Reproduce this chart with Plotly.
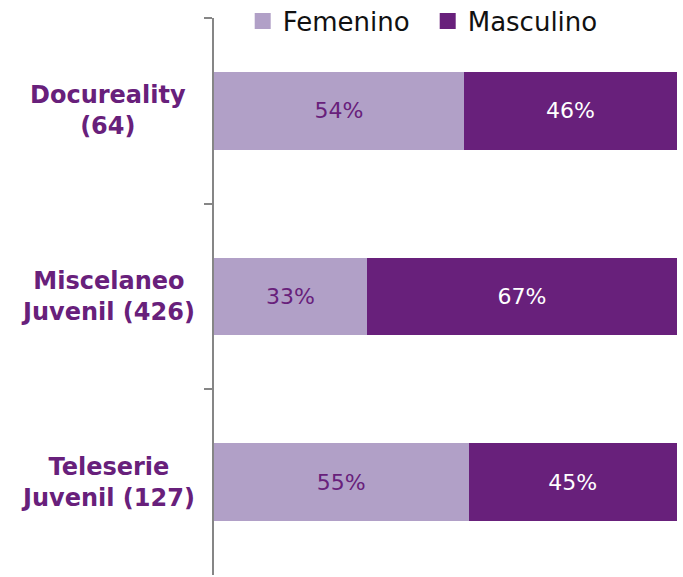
import plotly.graph_objects as go

categories = ["Docureality<br>(64)", "Miscelaneo<br>Juvenil (426)", "Teleserie<br>Juvenil (127)"]
femenino = [54, 33, 55]
masculino = [46, 67, 45]
series_names = ["Femenino", "Masculino"]

LIGHT = "#B1A0C7"
DARK = "#68207B"
FONT = "DejaVu Sans"

fig = go.Figure()
fig.add_trace(go.Bar(
    name=series_names[0], y=categories, x=[v / 100 for v in femenino], orientation="h",
    marker=dict(color=LIGHT, line=dict(width=0)), width=0.42, showlegend=False,
    text=[f"{v}%" for v in femenino], textposition="inside", insidetextanchor="middle",
    textfont=dict(family=FONT, size=22, color=DARK), hoverinfo="skip",
))
fig.add_trace(go.Bar(
    name=series_names[1], y=categories, x=[v / 100 for v in masculino], orientation="h",
    marker=dict(color=DARK, line=dict(width=0)), width=0.42, showlegend=False,
    text=[f"{v}%" for v in masculino], textposition="inside", insidetextanchor="middle",
    textfont=dict(family=FONT, size=22, color="white"), hoverinfo="skip",
))
# legend swatches (square markers, like the reference)
for name, col in zip(series_names, [LIGHT, DARK]):
    fig.add_trace(go.Scatter(
        x=[None], y=[None], mode="markers", name=name,
        marker=dict(symbol="square", size=16, color=col, line=dict(width=0)),
        hoverinfo="skip",
    ))

for c in categories:
    fig.add_annotation(
        x=-0.229, xref="paper", y=c, yref="y", text=f"<b>{c}</b>", showarrow=False,
        xanchor="center", yanchor="middle", align="center",
        font=dict(family=FONT, size=24, color=DARK),
    )

fig.update_layout(
    barmode="stack",
    width=683, height=577,
    margin=dict(l=214, r=6, t=2, b=2, autoexpand=False),
    paper_bgcolor="white", plot_bgcolor="white",
    showlegend=True,
    legend=dict(orientation="h", x=0.062, xanchor="left", y=0.9668, yanchor="middle",
                font=dict(family=FONT, size=26, color="#111111"),
                bgcolor="rgba(0,0,0,0)", itemwidth=30, entrywidth=140,
                traceorder="normal"),
    xaxis=dict(range=[0, 1], visible=False, fixedrange=True),
    yaxis=dict(categoryorder="array", categoryarray=categories, autorange="reversed",
               domain=[0, 0.9721], automargin=False,
               showticklabels=False, showline=True, linecolor="#868686",
               linewidth=2, ticks="outside", ticklen=8, tickcolor="#868686", tickwidth=2,
               tickson="boundaries", showgrid=False, zeroline=False),
)

fig.write_html("out.html", config={"displayModeBar": False},
               post_script="document.body.style.margin='0';")
